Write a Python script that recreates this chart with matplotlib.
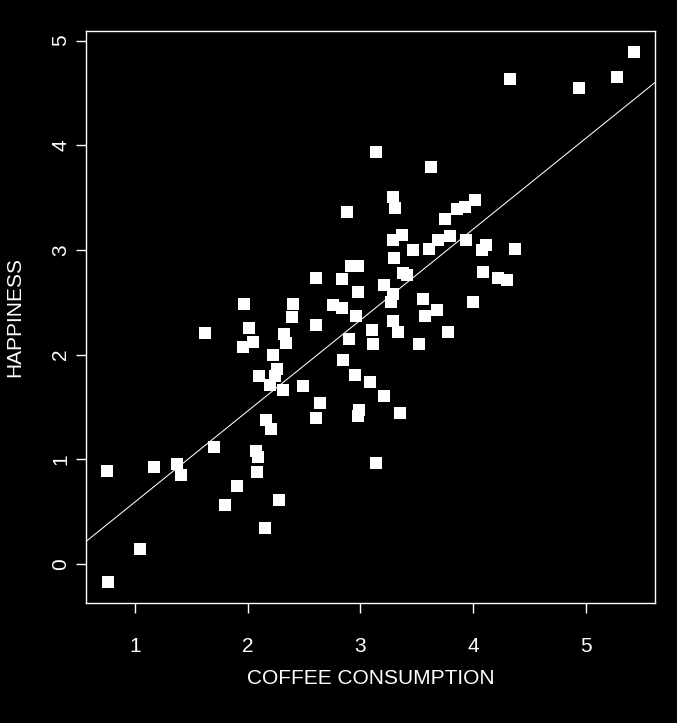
import numpy as np
import matplotlib.pyplot as plt

# coffee consumption vs happiness
coffee = [5.43, 5.28, 4.94, 4.33, 3.14, 3.63, 2.88, 3.29, 3.31, 4.02,
          3.93, 3.86, 3.75, 3.37, 3.29, 3.47, 3.61, 3.69, 3.80, 3.94,
          4.08, 4.12, 4.37, 3.30, 3.38, 3.41, 4.09, 4.22, 4.30, 3.21,
          3.29, 3.27, 3.56, 3.68, 4.00, 3.57, 3.29, 3.33, 3.10, 3.11,
          3.52, 3.78, 3.09, 3.21, 3.35, 3.14, 2.92, 2.98, 2.84, 2.61,
          2.98, 1.97, 2.40, 2.76, 2.84, 2.39, 2.96, 2.61, 1.62, 2.01,
          1.96, 2.05, 2.32, 2.34, 2.22, 2.26, 2.10, 2.24, 2.20, 2.31,
          2.49, 2.85, 2.95, 2.90, 2.64, 2.61, 2.16, 2.21, 2.99, 2.98,
          1.70, 2.07, 2.09, 2.08, 1.17, 1.37, 1.41, 0.75, 1.90, 2.28,
          1.80, 2.15, 1.04, 0.76]
happiness = [4.89, 4.65, 4.55, 4.63, 3.94, 3.79, 3.36, 3.51, 3.40, 3.48,
             3.41, 3.39, 3.30, 3.14, 3.09, 3.00, 3.01, 3.09, 3.13, 3.09,
             3.00, 3.05, 3.01, 2.92, 2.78, 2.76, 2.79, 2.73, 2.71, 2.66,
             2.58, 2.50, 2.53, 2.43, 2.50, 2.37, 2.32, 2.22, 2.23, 2.10,
             2.10, 2.22, 1.74, 1.60, 1.44, 0.96, 2.85, 2.85, 2.72, 2.73,
             2.60, 2.48, 2.48, 2.47, 2.44, 2.36, 2.37, 2.28, 2.21, 2.25,
             2.07, 2.12, 2.20, 2.11, 2.00, 1.86, 1.79, 1.79, 1.71, 1.66,
             1.70, 1.95, 1.80, 2.15, 1.54, 1.39, 1.37, 1.29, 1.47, 1.41,
             1.12, 1.08, 1.02, 0.88, 0.92, 0.95, 0.85, 0.89, 0.74, 0.61,
             0.56, 0.34, 0.14, -0.17]
xticks = [1, 2, 3, 4, 5]
yticks = [0, 1, 2, 3, 4, 5]

plt.rcParams['font.family'] = ['Liberation Sans', 'DejaVu Sans']

fig = plt.figure(figsize=(6.77, 7.23), dpi=100, facecolor='black')
ax = fig.add_axes([0.127, 0.1664, 0.8405, 0.7907], facecolor='black')

ax.plot(coffee, happiness, 's', color='white', ms=8.5, mec='white', mew=0)

# R style 4% padding on the data range
x0, x1 = min(coffee), max(coffee)
y0, y1 = min(happiness), max(happiness)
ax.set_xlim(x0 - 0.04 * (x1 - x0), x1 + 0.04 * (x1 - x0))
ax.set_ylim(y0 - 0.04 * (y1 - y0), y1 + 0.04 * (y1 - y0))

slope, icpt = np.polyfit(coffee, happiness, 1)
ax.axline((1, icpt + slope), slope=slope, color='white', lw=0.75)

for s in ax.spines.values():
    s.set_color('white')
    s.set_linewidth(1)

ax.set_xticks(xticks)
ax.set_yticks(yticks)
ax.tick_params(colors='white', labelcolor='white', labelsize=15,
               length=7.5, width=1)
ax.tick_params(axis='x', pad=17)
ax.tick_params(axis='y', pad=4)
for lab in ax.get_yticklabels():
    lab.set_rotation(90)
    lab.set_va('center')

ax.set_xlabel('COFFEE CONSUMPTION', color='white', fontsize=15)
ax.set_ylabel('HAPPINESS', color='white', fontsize=15)
ax.xaxis.set_label_coords(0.5, -0.132)
ax.yaxis.set_label_coords(-0.125, 0.5)
ax.xaxis.label.set_va('center')
ax.yaxis.label.set_va('center')

fig.savefig('out.png', facecolor='black')
